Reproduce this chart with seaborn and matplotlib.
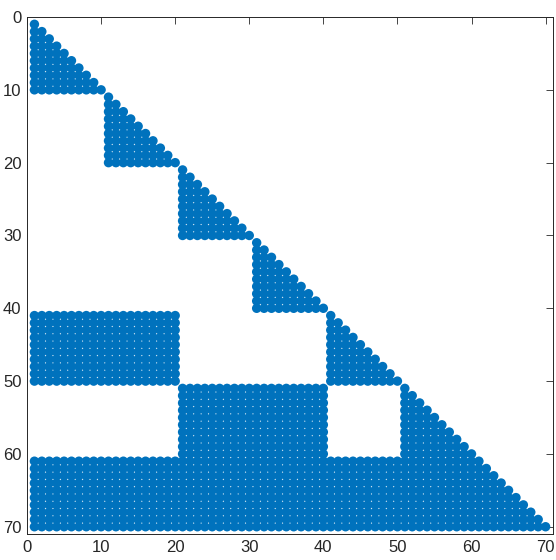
import numpy as np
import pandas as pd
import matplotlib
matplotlib.use("Agg")
import matplotlib.pyplot as plt
import seaborn as sns

# 행렬 크기와 블록 구성 (1-based, 양끝 포함)
n = 70
diag_blocks = [(1, 10), (11, 20), (21, 30), (31, 40), (41, 50), (51, 70)]
# (행 시작, 행 끝, 열 시작, 열 끝)
full_blocks = [(41, 50, 1, 20), (51, 60, 21, 40), (61, 70, 1, 20),
               (61, 70, 21, 40), (61, 70, 41, 50)]
ticks = [0, 10, 20, 30, 40, 50, 60, 70]

A = np.zeros((n, n), dtype=bool)
for a, b in diag_blocks:
    for i in range(a, b + 1):
        A[i - 1, a - 1:i] = True
for r0, r1, c0, c1 in full_blocks:
    A[r0 - 1:r1, c0 - 1:c1] = True

rows, cols = np.nonzero(A)
df = pd.DataFrame({"col": cols + 1, "row": rows + 1})

sns.set_style("white")
plt.rcParams['font.family'] = ['Liberation Sans', 'DejaVu Sans']

fig = plt.figure(figsize=(5.56, 5.60), dpi=100)
ax = fig.add_axes([0.0486, 0.0464, 0.946, 0.9232])
sns.scatterplot(data=df, x="col", y="row", s=46, color="#0072BD",
                edgecolor="none", linewidth=0, ax=ax, legend=False)

ax.set_xlim(0, n + 1)
ax.set_ylim(n + 1, 0)
ax.set_xticks(ticks)
ax.set_yticks(ticks)
ax.set_xlabel("")
ax.set_ylabel("")
ax.tick_params(direction="in", top=True, right=True, length=5, width=0.6,
               labelsize=12, colors="#262626", pad=4)
for sp in ax.spines.values():
    sp.set_color("#262626")
    sp.set_linewidth(0.7)

fig.savefig("out.png", dpi=100)
